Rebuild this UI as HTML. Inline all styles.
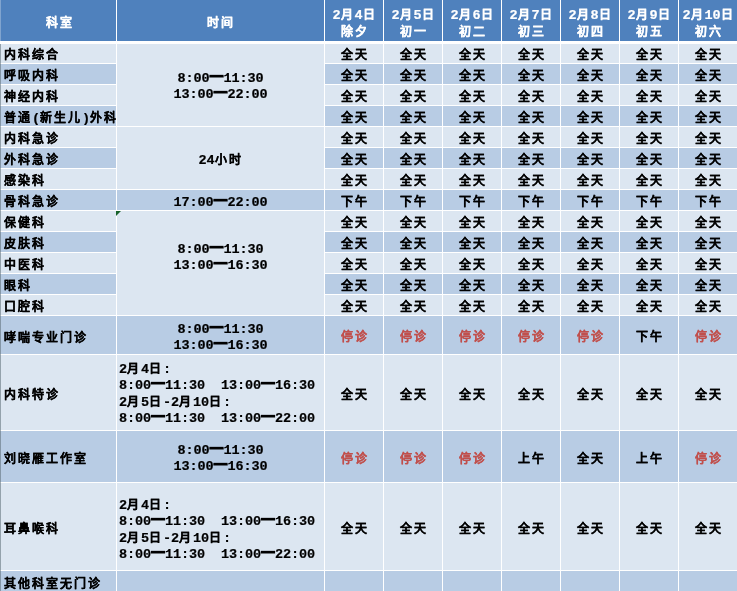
<!DOCTYPE html>
<html lang="zh-CN">
<head>
<meta charset="utf-8">
<title>春节门诊安排</title>
<style>
html,body{margin:0;padding:0;background:#fff;}
html{overflow:hidden;}
.w{position:absolute;left:0;top:0;width:737px;height:591px;overflow:hidden;contain:paint;}
body{position:relative;width:737px;height:591px;overflow:hidden;font-family:"Liberation Sans",sans-serif;}
table{-webkit-text-stroke:0.2px currentColor;will-change:transform;border-collapse:separate;border-spacing:1px;table-layout:fixed;width:739px;margin:-1px;font-weight:bold;font-size:12px;letter-spacing:2px;color:#000;line-height:16px;}
td,th{box-sizing:border-box;padding:0;margin:0;overflow:hidden;white-space:nowrap;text-align:center;vertical-align:top;}
th{background:#4f81bd;color:#fff;height:42px;border-bottom:1px solid #fff;font-weight:bold;line-height:17px;padding:7px 0 0 1px;}
th.h1{padding-top:15px;}
th.k{padding-left:4px;}
tr.r td{height:20px;padding-top:4px;}
tr.h38 td{height:38px;padding-top:14px;}
tr.h75 td{height:75px;padding-top:32px;}
tr.h51 td{height:51px;padding-top:20px;}
tr.h87 td{height:87px;padding-top:38px;}
.l{background:#dce6f1;}
.d{background:#b8cce4;}
td.n{text-align:left;padding-left:4px;}
td.v{padding-left:2px;}
tr td.t{line-height:16.4px;}
tr td.t4{padding-top:27px;}
tr td.t3{padding-top:25px;}
tr td.t1{padding-top:4px;line-height:16px;}
tr td.t5{padding-top:30px;}
tr.h38 td.v{padding-top:13px;}
tr.h38 td.t2{padding-top:5px;line-height:16px;}
tr.h51 td.t2{padding-top:11px;}
tr.h75 td.tl{padding-top:6px;}
tr.h87 td.tl{padding-top:14px;}
td.tl{text-align:left;padding-left:2px;}
.m{font-family:"Liberation Mono",monospace;font-size:13.5px;letter-spacing:-0.1px;line-height:0;}
.e{font-size:14px;letter-spacing:0;line-height:0;position:relative;top:-1px;text-shadow:0 -1px 0 currentColor;}
.x{color:#c0504d;}
tbody tr:first-child td{border-top:1px solid #fff;padding-top:3px;}
tbody tr:first-child td.t4{padding-top:26px;}
.g{position:absolute;left:116px;top:211px;width:0;height:0;border-top:5px solid #17622a;border-right:5px solid transparent;}
.s1{position:absolute;left:0;top:0;width:1px;height:41px;background:rgba(255,255,255,.28);}
.s2{position:absolute;left:0;top:44px;width:1px;height:547px;background:rgba(90,105,115,.55);}
tbody tr:last-child td{padding-top:6px;line-height:14px;}
</style>
</head>
<body>
<div class="w">
<table>
<colgroup><col style="width:116px"><col style="width:207px"><col style="width:58px"><col style="width:58px"><col style="width:58px"><col style="width:58px"><col style="width:58px"><col style="width:58px"><col style="width:58px"></colgroup>
<thead>
<tr><th class="h1 k">科室</th><th class="h1">时间</th><th><span class="m">2</span>月<span class="m">4</span>日<br>除夕</th><th><span class="m">2</span>月<span class="m">5</span>日<br>初一</th><th><span class="m">2</span>月<span class="m">6</span>日<br>初二</th><th><span class="m">2</span>月<span class="m">7</span>日<br>初三</th><th><span class="m">2</span>月<span class="m">8</span>日<br>初四</th><th><span class="m">2</span>月<span class="m">9</span>日<br>初五</th><th><span class="m">2</span>月<span class="m">10</span>日<br>初六</th></tr>
</thead>
<tbody>
<tr class="r"><td class="n l">内科综合</td><td class="t t4 l" rowspan="4"><span class="m">8:00</span><span class="e">—</span><span class="m">11:30</span><br><span class="m">13:00</span><span class="e">—</span><span class="m">22:00</span></td><td class="v l">全天</td><td class="v l">全天</td><td class="v l">全天</td><td class="v l">全天</td><td class="v l">全天</td><td class="v l">全天</td><td class="v l">全天</td></tr>
<tr class="r"><td class="n d">呼吸内科</td><td class="v d">全天</td><td class="v d">全天</td><td class="v d">全天</td><td class="v d">全天</td><td class="v d">全天</td><td class="v d">全天</td><td class="v d">全天</td></tr>
<tr class="r"><td class="n l">神经内科</td><td class="v l">全天</td><td class="v l">全天</td><td class="v l">全天</td><td class="v l">全天</td><td class="v l">全天</td><td class="v l">全天</td><td class="v l">全天</td></tr>
<tr class="r"><td class="n d">普通<span class="m">(</span>新生儿<span class="m">)</span>外科</td><td class="v d">全天</td><td class="v d">全天</td><td class="v d">全天</td><td class="v d">全天</td><td class="v d">全天</td><td class="v d">全天</td><td class="v d">全天</td></tr>
<tr class="r"><td class="n l">内科急诊</td><td class="t t3 l" rowspan="3"><span class="m">24</span>小时</td><td class="v l">全天</td><td class="v l">全天</td><td class="v l">全天</td><td class="v l">全天</td><td class="v l">全天</td><td class="v l">全天</td><td class="v l">全天</td></tr>
<tr class="r"><td class="n d">外科急诊</td><td class="v d">全天</td><td class="v d">全天</td><td class="v d">全天</td><td class="v d">全天</td><td class="v d">全天</td><td class="v d">全天</td><td class="v d">全天</td></tr>
<tr class="r"><td class="n l">感染科</td><td class="v l">全天</td><td class="v l">全天</td><td class="v l">全天</td><td class="v l">全天</td><td class="v l">全天</td><td class="v l">全天</td><td class="v l">全天</td></tr>
<tr class="r"><td class="n d">骨科急诊</td><td class="t t1 d"><span class="m">17:00</span><span class="e">—</span><span class="m">22:00</span></td><td class="v d">下午</td><td class="v d">下午</td><td class="v d">下午</td><td class="v d">下午</td><td class="v d">下午</td><td class="v d">下午</td><td class="v d">下午</td></tr>
<tr class="r"><td class="n l">保健科</td><td class="t t5 l" rowspan="5"><span class="m">8:00</span><span class="e">—</span><span class="m">11:30</span><br><span class="m">13:00</span><span class="e">—</span><span class="m">16:30</span></td><td class="v l">全天</td><td class="v l">全天</td><td class="v l">全天</td><td class="v l">全天</td><td class="v l">全天</td><td class="v l">全天</td><td class="v l">全天</td></tr>
<tr class="r"><td class="n d">皮肤科</td><td class="v d">全天</td><td class="v d">全天</td><td class="v d">全天</td><td class="v d">全天</td><td class="v d">全天</td><td class="v d">全天</td><td class="v d">全天</td></tr>
<tr class="r"><td class="n l">中医科</td><td class="v l">全天</td><td class="v l">全天</td><td class="v l">全天</td><td class="v l">全天</td><td class="v l">全天</td><td class="v l">全天</td><td class="v l">全天</td></tr>
<tr class="r"><td class="n d">眼科</td><td class="v d">全天</td><td class="v d">全天</td><td class="v d">全天</td><td class="v d">全天</td><td class="v d">全天</td><td class="v d">全天</td><td class="v d">全天</td></tr>
<tr class="r"><td class="n l">口腔科</td><td class="v l">全天</td><td class="v l">全天</td><td class="v l">全天</td><td class="v l">全天</td><td class="v l">全天</td><td class="v l">全天</td><td class="v l">全天</td></tr>
<tr class="h38"><td class="n d">哮喘专业门诊</td><td class="t t2 d"><span class="m">8:00</span><span class="e">—</span><span class="m">11:30</span><br><span class="m">13:00</span><span class="e">—</span><span class="m">16:30</span></td><td class="v d x">停诊</td><td class="v d x">停诊</td><td class="v d x">停诊</td><td class="v d x">停诊</td><td class="v d x">停诊</td><td class="v d">下午</td><td class="v d x">停诊</td></tr>
<tr class="h75"><td class="n l">内科特诊</td><td class="t tl l"><span class="m">2</span>月<span class="m">4</span>日<span class="m">:</span><br><span class="m">8:00</span><span class="e">—</span><span class="m">11:30&nbsp;&nbsp;13:00</span><span class="e">—</span><span class="m">16:30</span><br><span class="m">2</span>月<span class="m">5</span>日<span class="m">-2</span>月<span class="m">10</span>日<span class="m">:</span><br><span class="m">8:00</span><span class="e">—</span><span class="m">11:30&nbsp;&nbsp;13:00</span><span class="e">—</span><span class="m">22:00</span></td><td class="v l">全天</td><td class="v l">全天</td><td class="v l">全天</td><td class="v l">全天</td><td class="v l">全天</td><td class="v l">全天</td><td class="v l">全天</td></tr>
<tr class="h51"><td class="n d">刘晓雁工作室</td><td class="t t2 d"><span class="m">8:00</span><span class="e">—</span><span class="m">11:30</span><br><span class="m">13:00</span><span class="e">—</span><span class="m">16:30</span></td><td class="v d x">停诊</td><td class="v d x">停诊</td><td class="v d x">停诊</td><td class="v d">上午</td><td class="v d">全天</td><td class="v d">上午</td><td class="v d x">停诊</td></tr>
<tr class="h87"><td class="n l">耳鼻喉科</td><td class="t tl l"><span class="m">2</span>月<span class="m">4</span>日<span class="m">:</span><br><span class="m">8:00</span><span class="e">—</span><span class="m">11:30&nbsp;&nbsp;13:00</span><span class="e">—</span><span class="m">16:30</span><br><span class="m">2</span>月<span class="m">5</span>日<span class="m">-2</span>月<span class="m">10</span>日<span class="m">:</span><br><span class="m">8:00</span><span class="e">—</span><span class="m">11:30&nbsp;&nbsp;13:00</span><span class="e">—</span><span class="m">22:00</span></td><td class="v l">全天</td><td class="v l">全天</td><td class="v l">全天</td><td class="v l">全天</td><td class="v l">全天</td><td class="v l">全天</td><td class="v l">全天</td></tr>
<tr class="r"><td class="n d">其他科室无门诊</td><td class="d"></td><td class="d"></td><td class="d"></td><td class="d"></td><td class="d"></td><td class="d"></td><td class="d"></td><td class="d"></td></tr>
</tbody>
</table>
<div class="g"></div>
<div class="s1"></div>
<div class="s2"></div>
</div>
</body>
</html>
